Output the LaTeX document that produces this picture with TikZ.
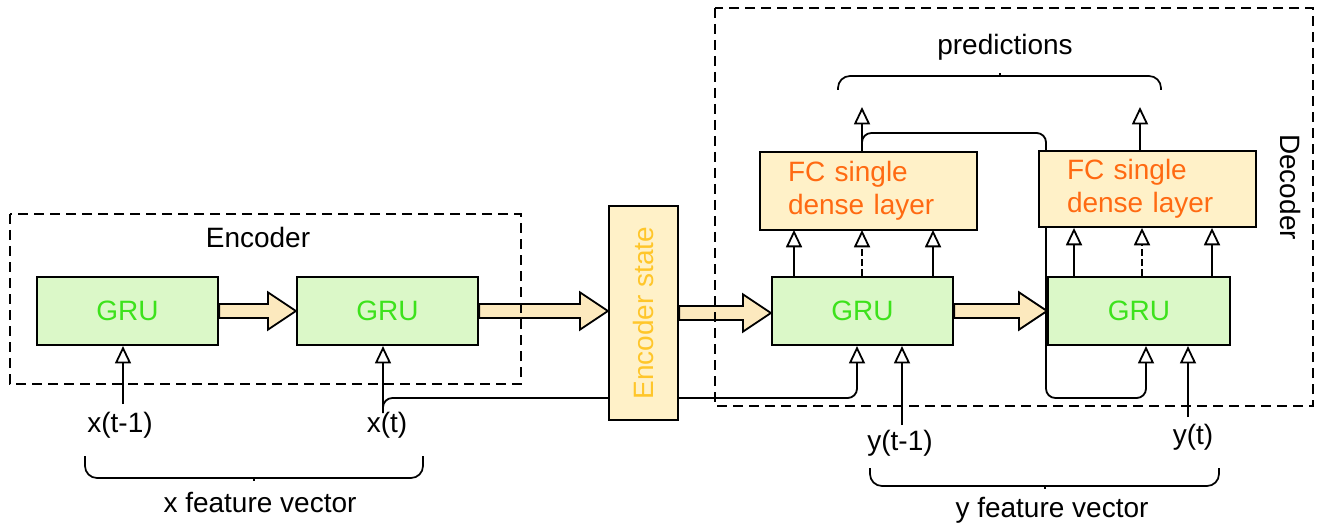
\documentclass[tikz,border=0pt]{standalone}
\usepackage{fontspec}
\setmainfont{Liberation Sans}
\usetikzlibrary{arrows.meta,calc,backgrounds}
\definecolor{grufill}{HTML}{DBF8C8}
\definecolor{grutext}{HTML}{3DE21C}
\definecolor{fcfill}{HTML}{FFF1C8}
\definecolor{fctext}{HTML}{FF6A12}
\definecolor{enctext}{HTML}{FFC62A}
\definecolor{fatfill}{HTML}{FCE9BE}
\tikzset{
  gru/.style={draw=black, line width=1.6pt, fill=grufill, text=grutext, minimum width=135.75pt, minimum height=51pt, inner sep=0pt},
  fcbox/.style={draw=black, line width=1.6pt, fill=fcfill, text=fctext, minimum width=162.75pt, minimum height=58.5pt, align=left, text width=120.75pt, inner sep=0pt},
  encbox/.style={draw=black, line width=1.6pt, fill=fcfill, minimum width=51.75pt, minimum height=160.5pt, inner sep=0pt},
  fat/.style={draw=black, line width=1.4pt, fill=fatfill, line join=miter},
  sig/.style={draw=black, line width=1.35pt, -{Triangle[open, length=13pt, width=12pt, line width=1.35pt]}},
  sigdash/.style={sig, dash pattern=on 5pt off 2.5pt},
  frame/.style={draw=black, line width=1.2pt, dash pattern=on 7.5pt off 4.5pt},
  bracepath/.style={draw=black, line width=1.3pt, rounded corners=9pt},
  lbl/.style={text=black, inner sep=0pt}
}
\newcommand\fatarrow[2]{%
  \path[fat] let \p1=(#1.east), \p2=(#2.west) in
    (\x1,\y1+5.25pt) -- (\x2-21pt,\y1+5.25pt) -- (\x2-21pt,\y1+14pt) -- (\x2,\y1)
    -- (\x2-21pt,\y1-14pt) -- (\x2-21pt,\y1-5.25pt) -- (\x1,\y1-5.25pt) -- cycle;}
\begin{document}
\begin{tikzpicture}[x=0.75pt, y=-0.75pt, font=\fontsize{21}{24.75}\selectfont]
\useasboundingbox (0,0) rectangle (1325,524);

% boxes
\node[gru] (g1) at (127.5,311) {GRU};
\node[gru] (g2) at (387.5,311) {GRU};
\node[gru] (g3) at (862.5,311) {GRU};
\node[gru, minimum width=136.5pt] (g4) at (1139,311) {GRU};
\node[fcbox] (fc1) at (868.5,191) {FC single\\dense layer};
\node[fcbox, minimum height=57pt] (fc2) at (1147.5,189) {FC single\\dense layer};
\node[encbox] (enc) at (643.5,313) {};
\node[rotate=90, text=enctext, inner sep=0pt] (enclbl) at (643.5,313) {Encoder state};

% labels
\node[lbl] (encname) at (258,237) {Encoder};
\node[lbl, rotate=-90] (decname) at (1290,187) {Decoder};
\node[lbl] (pred) at (1005,47) {predictions};
\node[lbl] (lxtm1) at (120,425) {x(t-1)};
\node[lbl] (lxt) at (387,425) {x(t)};
\node[lbl] (lytm1) at (900,443) {y(t-1)};
\node[lbl] (lyt) at (1193,437) {y(t)};
\node[lbl] (xfv) at (260,503) {x feature vector};
\node[lbl] (yfv) at (1052,510) {y feature vector};

% free ends
\coordinate (xtm1) at (123,404);
\coordinate (xt) at (383,413);
\coordinate (ytm1) at (902,425);
\coordinate (yt) at (1188,417);
\coordinate (p1) at (862,107);
\coordinate (p2) at (1140,107);

% lines behind boxes
\begin{pgfonlayer}{background}
\draw[sig, rounded corners=7pt] (xt) -- (383,398) -- (857,398) -- ($(g3.south)+(-5.5,0)$);
\draw[sig, rounded corners=7pt] (p1 |- fc1.north) -- (862,133) -- (1046,133) -- (1046,398) -- (1146,398) -- ($(g4.south)+(7,0)$);
\end{pgfonlayer}

% inputs
\draw[sig] (xtm1) -- (xtm1 |- g1.south);
\draw[sig] (xt) -- (xt |- g2.south);
\draw[sig] (ytm1) -- (ytm1 |- g3.south);
\draw[sig] (yt) -- (yt |- g4.south);

% GRU -> FC
\draw[sig] ($(g3.north)+(-68.5,0)$) -- ++(0,-46);
\draw[sigdash] ($(g3.north)+(-0.5,0)$) -- ++(0,-46);
\draw[sig] ($(g3.north)+(70.5,0)$) -- ++(0,-46);
\draw[sig] ($(g4.north)+(-65,0)$) -- ++(0,-48);
\draw[sigdash] ($(g4.north)+(3,0)$) -- ++(0,-48);
\draw[sig] ($(g4.north)+(73,0)$) -- ++(0,-48);

% predictions
\draw[sig] (p1 |- fc1.north) -- (p1);
\draw[sig] (p2 |- fc2.north) -- (p2);

% fat arrows
\fatarrow{g1}{g2}
\fatarrow{g2}{enc}
\fatarrow{enc}{g3}
\fatarrow{g3}{g4}

% frames
\draw[frame] (10,214) rectangle (521,384);
\draw[frame] (715,8) rectangle (1313,406);

% braces
\draw[bracepath] (85,456) -- (85,478) -- (423,478) -- (423,456);
\draw[line width=1.2pt] (254,478) -- (254,481);
\draw[bracepath] (838,90) -- (838,76) -- (1161,76) -- (1161,90);
\draw[line width=1.2pt] (1000,76) -- (1000,73);
\draw[bracepath] (870,468) -- (870,486) -- (1219,486) -- (1219,468);
\draw[line width=1.2pt] (1045,486) -- (1045,489);
\end{tikzpicture}
\end{document}
